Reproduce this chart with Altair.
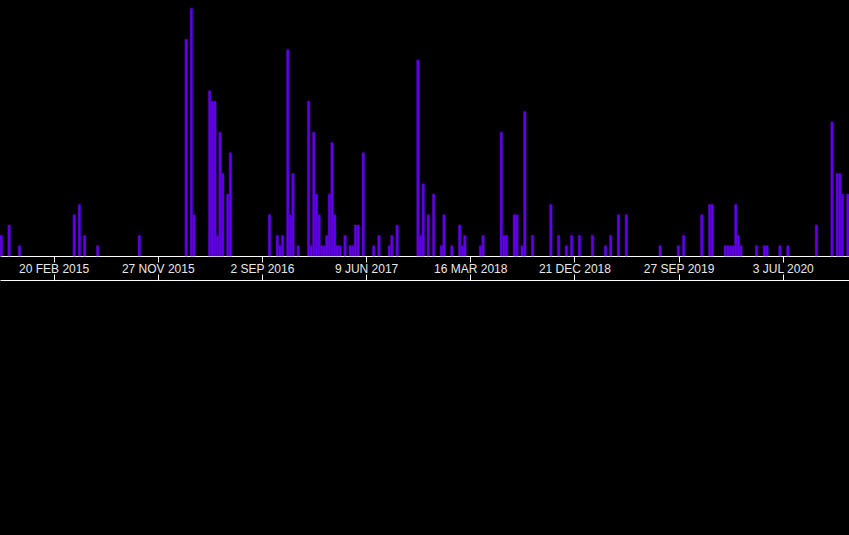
import altair as alt
import pandas as pd

# Weekly bins (week starting Monday) and the number of items in each week
week_start = [
    "2014-09-29", "2014-10-20", "2014-11-17",
    "2015-04-13", "2015-04-27", "2015-05-11", "2015-06-15", "2015-10-05",
    "2016-02-08", "2016-02-22", "2016-02-29", "2016-04-11", "2016-04-18",
    "2016-04-25", "2016-05-02", "2016-05-09", "2016-05-16", "2016-05-30",
    "2016-06-06", "2016-09-19", "2016-10-10", "2016-10-17", "2016-10-24",
    "2016-11-07", "2016-11-14", "2016-11-21", "2016-12-05",
    "2017-01-02", "2017-01-09", "2017-01-16", "2017-01-23", "2017-01-30",
    "2017-02-06", "2017-02-13", "2017-02-20", "2017-02-27", "2017-03-06",
    "2017-03-13", "2017-03-20", "2017-03-27", "2017-04-10", "2017-04-24",
    "2017-05-01", "2017-05-08", "2017-05-15", "2017-05-29", "2017-06-26",
    "2017-07-10", "2017-08-07", "2017-08-14", "2017-08-28", "2017-10-23",
    "2017-10-30", "2017-11-06", "2017-11-20", "2017-12-04", "2017-12-25",
    "2018-01-01", "2018-01-22", "2018-02-12", "2018-02-19", "2018-02-26",
    "2018-04-09", "2018-04-16", "2018-06-04", "2018-06-11", "2018-06-18",
    "2018-07-09", "2018-07-16", "2018-07-30", "2018-08-06", "2018-08-27",
    "2018-10-15", "2018-11-05", "2018-11-26", "2018-12-10", "2018-12-31",
    "2019-02-04", "2019-03-11", "2019-03-25", "2019-04-15", "2019-05-06",
    "2019-08-05", "2019-09-23", "2019-10-07", "2019-11-25", "2019-12-16",
    "2019-12-23",
    "2020-01-27", "2020-02-03", "2020-02-10", "2020-02-17", "2020-02-24",
    "2020-03-02", "2020-03-09", "2020-04-20", "2020-05-11", "2020-05-18",
    "2020-06-22", "2020-07-13", "2020-09-28", "2020-11-09", "2020-11-23",
    "2020-11-30", "2020-12-07", "2020-12-21",
]
counts = [
    2, 3, 1,
    4, 5, 2, 1, 2,
    21, 24, 4, 16, 15,
    15, 2, 12, 8, 6,
    10, 4, 2, 1, 2,
    20, 4, 8, 1,
    15, 1, 12, 6, 4,
    1, 1, 2, 6, 11,
    4, 1, 1, 2, 1,
    1, 3, 3, 10, 1,
    2, 1, 2, 3, 19,
    2, 7, 4, 6, 1,
    4, 1, 3, 1, 2,
    1, 2, 12, 2, 2,
    4, 4, 1, 14, 2,
    5, 2, 1, 2, 2,
    2, 1, 2, 4, 4,
    1, 1, 2, 4, 5,
    5,
    1, 1, 1, 1, 5,
    2, 1, 1, 1, 1,
    1, 1, 3, 13, 8,
    8, 6, 6,
]

# Axis tick dates (every 280 days)
tick_dates = [
    (2015, 2, 20), (2015, 11, 27), (2016, 9, 2), (2017, 6, 9),
    (2018, 3, 16), (2018, 12, 21), (2019, 9, 27), (2020, 7, 3),
]

df = pd.DataFrame({"start": pd.to_datetime(week_start), "count": counts})
df["end"] = df["start"] + pd.Timedelta(days=7)

first = df["start"].min()
last = df["end"].max()
x_domain = [
    alt.DateTime(year=first.year, month=first.month, date=first.day),
    alt.DateTime(year=last.year, month=last.month, date=last.day),
]
tick_values = [alt.DateTime(year=y, month=m, date=d) for (y, m, d) in tick_dates]

x_scale = alt.Scale(domain=x_domain, nice=False)
y_scale = alt.Scale(domain=[0, 24.8], nice=False)

bars = alt.Chart(df).mark_bar(
    color="#6200ea", stroke="#4a00b4", strokeWidth=0.5
).encode(
    x=alt.X(
        "start:T",
        scale=x_scale,
        axis=alt.Axis(
            values=tick_values,
            labelExpr="upper(timeFormat(datum.value, '%-d %b %Y'))",
            title=None,
            grid=False,
            domainColor="#ffffff",
            domainWidth=1,
            tickColor="#ffffff",
            tickWidth=1,
            tickSize=6,
            labelColor="#e8e8e8",
            labelFont="Liberation Sans",
            labelFontSize=12,
            labelBaseline="middle",
            labelPadding=6,
            labelFlush=False,
            labelOverlap=False,
        ),
    ),
    x2="end:T",
    y=alt.Y("count:Q", scale=y_scale, axis=None),
    y2=alt.datum(0),
)

lower_line = alt.Chart(df).mark_bar(opacity=0).encode(
    x=alt.X(
        "start:T",
        scale=x_scale,
        axis=alt.Axis(
            orient="top",
            offset=-280,
            values=tick_values,
            labels=False,
            title=None,
            grid=False,
            domainColor="#ffffff",
            domainWidth=1,
            tickColor="#ffffff",
            tickWidth=1,
            tickSize=6,
        ),
    ),
    x2="end:T",
    y=alt.Y("count:Q", scale=y_scale, axis=None),
    y2=alt.datum(0),
)

chart = (
    alt.layer(bars, lower_line)
    .resolve_axis(x="independent")
    .properties(
        width=849,
        height=256,
        background="#000000",
        padding={"left": 0, "right": 0, "top": 0, "bottom": 279},
        autosize=alt.AutoSizeParams(type="none"),
    )
    .configure_view(stroke=None)
)

chart.save("out.html", embed_options={"renderer": "svg", "actions": False})
